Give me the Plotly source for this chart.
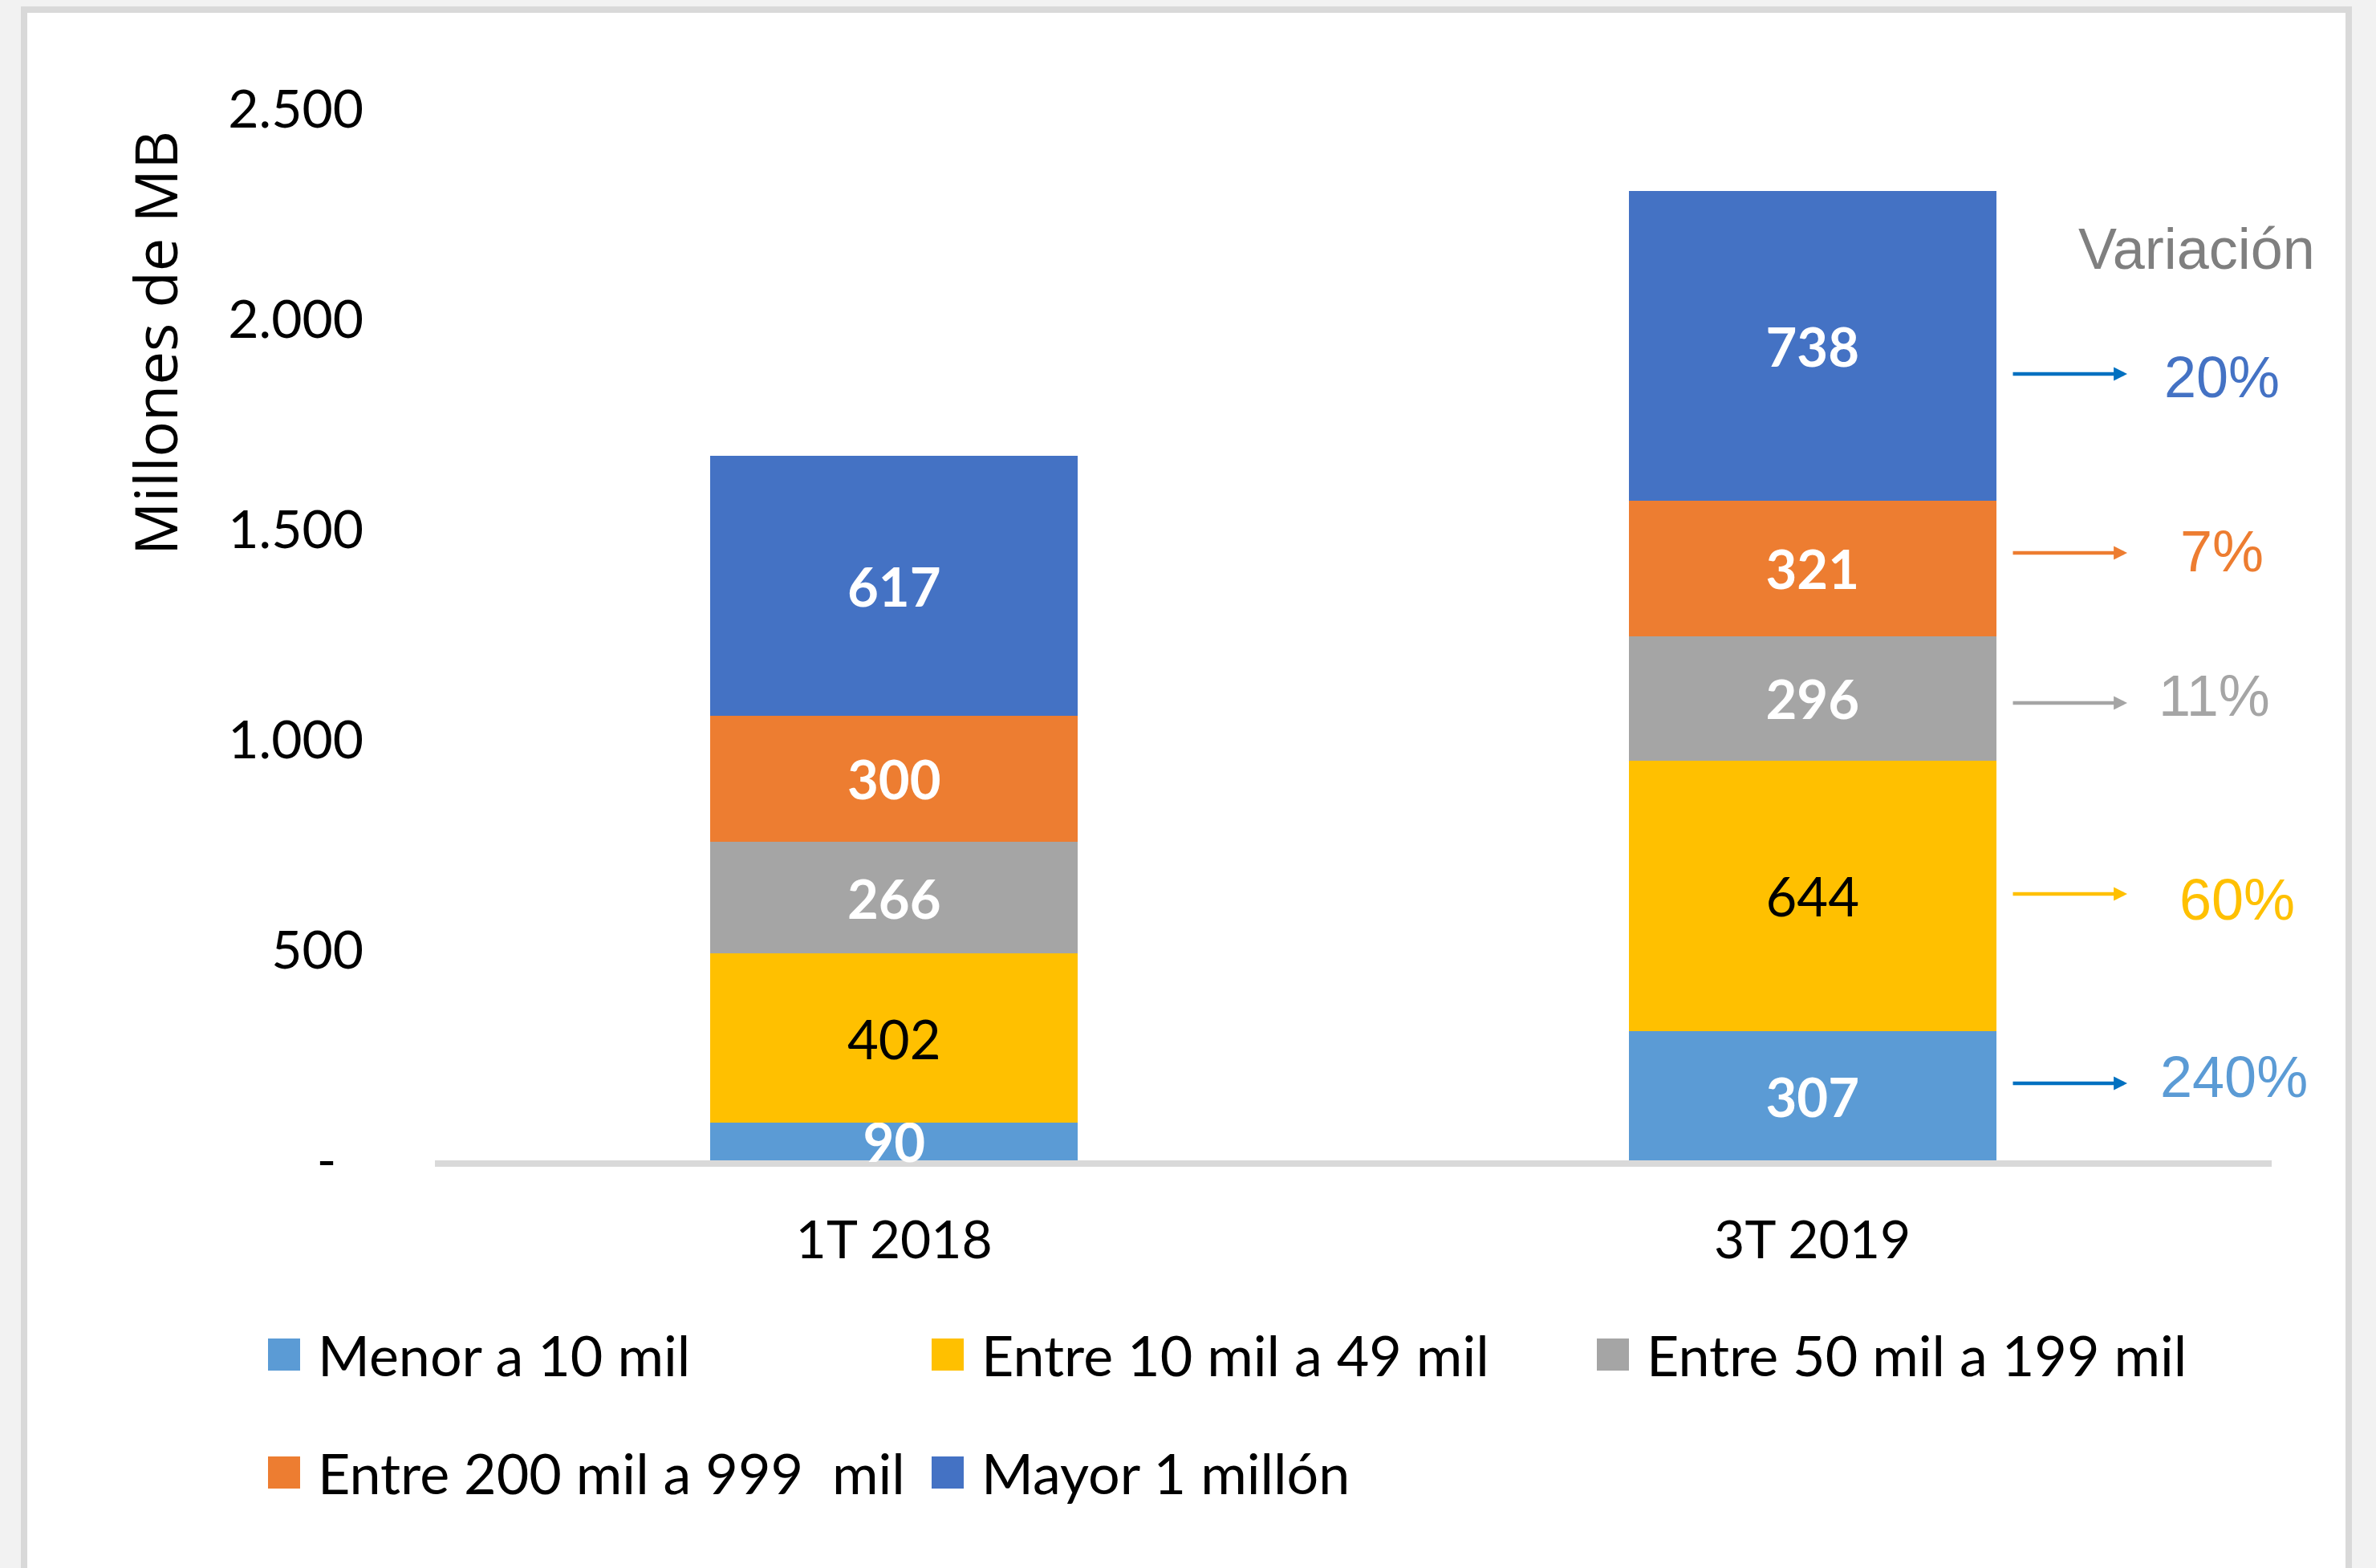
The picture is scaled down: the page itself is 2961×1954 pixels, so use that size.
import plotly.graph_objects as go

# --- datos -----------------------------------------------------------------
periodos = ["1T 2018", "3T 2019"]

rangos = [
    "Menor a 10 mil",
    "Entre 10 mil a 49 mil",
    "Entre 50 mil a 199 mil",
    "Entre 200 mil a 999  mil",
    "Mayor 1 millón",
]
menor_10_mil = [90, 307]
entre_10_49_mil = [402, 644]
entre_50_199_mil = [266, 296]
entre_200_999_mil = [300, 321]
mayor_1_millon = [617, 738]

variacion = ["240%", "60%", "11%", "7%", "20%"]

y_tickvals = [0, 500, 1000, 1500, 2000, 2500]
y_ticktext = ["-\u00a0\u00a0", "500", "1.000", "1.500", "2.000", "2.500"]

# --- estilo ----------------------------------------------------------------
colores = ["#5b9bd5", "#ffc000", "#a5a5a5", "#ed7d31", "#4472c4"]
color_texto = ["white", "black", "white", "white", "white"]
peso_texto = ["bold", "normal", "bold", "bold", "bold"]
color_flecha = ["#0070c0", "#ffc000", "#a5a5a5", "#ed7d31", "#0070c0"]
color_variacion = ["#5b9bd5", "#ffc000", "#a5a5a5", "#ed7d31", "#4472c4"]

W, H = 2961, 1954
ML, MR, MT, MB = 542, 130, 136, 508
PW, PH = W - ML - MR, H - MT - MB


def px(x):
    return (x - ML) / PW


def py(y):
    return (H - MB - y) / PH


FONT_NUM = "Lato, Carlito, Calibri, sans-serif"
FONT_ARIAL = "Liberation Sans, Arial, sans-serif"

series = [menor_10_mil, entre_10_49_mil, entre_50_199_mil,
          entre_200_999_mil, mayor_1_millon]

fig = go.Figure()
for nombre, valores, col, ct, pt in zip(rangos, series, colores,
                                        color_texto, peso_texto):
    fig.add_trace(go.Bar(
        x=periodos,
        y=valores,
        name=nombre,
        marker=dict(color=col, line=dict(width=0)),
        text=[str(v) for v in valores],
        textposition="inside",
        insidetextanchor="middle",
        textangle=0,
        textfont=dict(family=FONT_NUM, size=67, color=ct, weight=pt),
        cliponaxis=False,
        showlegend=False,
        hoverinfo="skip",
    ))

shapes = [
    # marco del gráfico
    dict(type="rect", xref="paper", yref="paper", layer="below",
         x0=px(30), x1=px(2927), y0=py(12), y1=py(2100),
         line=dict(color="#d9d9d9", width=8), fillcolor="white"),
]
annotations = [
    dict(xref="paper", yref="paper", x=px(192), y=py(428),
         text="Millones de MB", textangle=-90, showarrow=False,
         xanchor="center", yanchor="middle",
         font=dict(family="Open Sans, sans-serif", size=74, color="black")),
    dict(xref="paper", yref="paper", x=px(2737), y=py(310),
         text="Variación", showarrow=False, xanchor="center",
         yanchor="middle",
         font=dict(family=FONT_ARIAL, size=72, color="#7f7f7f")),
]

# flechas y porcentajes de variación (de abajo hacia arriba)
flecha_y = [1350, 1114, 876, 689, 466]
texto_xy = [(2784, 1342), (2788, 1121), (2759, 867), (2769, 687), (2769, 470)]
for i, etiqueta in enumerate(variacion):
    annotations.append(dict(
        xref="paper", yref="paper", x=px(2651), y=py(flecha_y[i]),
        ax=-144, ay=0, axref="pixel", ayref="pixel", text="",
        showarrow=True, arrowhead=2, arrowsize=0.75, arrowwidth=4.5,
        arrowcolor=color_flecha[i], standoff=0, startstandoff=0))
    tx, ty = texto_xy[i]
    annotations.append(dict(
        xref="paper", yref="paper", x=px(tx), y=py(ty), text=etiqueta,
        showarrow=False, xanchor="center", yanchor="middle",
        font=dict(family=FONT_ARIAL, size=72, color=color_variacion[i])))

# leyenda
leyenda_pos = [(334, 1688), (1161, 1688), (1990, 1688),
               (334, 1835), (1161, 1835)]
for nombre, col, (lx, ly) in zip(rangos, colores, leyenda_pos):
    shapes.append(dict(type="rect", xref="paper", yref="paper",
                       x0=px(lx), x1=px(lx + 40), y0=py(ly + 20),
                       y1=py(ly - 20), line=dict(width=0), fillcolor=col))
    annotations.append(dict(
        xref="paper", yref="paper", x=px(lx + 60), y=py(ly),
        text=nombre.replace("  ", " \u00a0"), showarrow=False,
        xanchor="left", yanchor="middle",
        font=dict(family=FONT_NUM, size=70, color="black")))

fig.update_layout(
    width=W, height=H,
    margin=dict(l=ML, r=MR, t=MT, b=MB, pad=0),
    paper_bgcolor="#f2f2f2",
    plot_bgcolor="rgba(0,0,0,0)",
    barmode="stack",
    bargap=0.6,
    uniformtext=dict(minsize=67, mode="show"),
    shapes=shapes,
    annotations=annotations,
    xaxis=dict(
        showline=True, linecolor="#d9d9d9", linewidth=8,
        ticks="", showgrid=False, zeroline=False, layer="below traces",
        tickfont=dict(family=FONT_NUM, size=66, color="black"),
        ticklabelstandoff=35,
    ),
    yaxis=dict(
        range=[0, 2500], tickvals=y_tickvals, ticktext=y_ticktext,
        showgrid=False, zeroline=False, showline=False, ticks="",
        tickfont=dict(family=FONT_NUM, size=66, color="black"),
        ticklabelstandoff=88,
    ),
)

fig.write_html("out.html")
